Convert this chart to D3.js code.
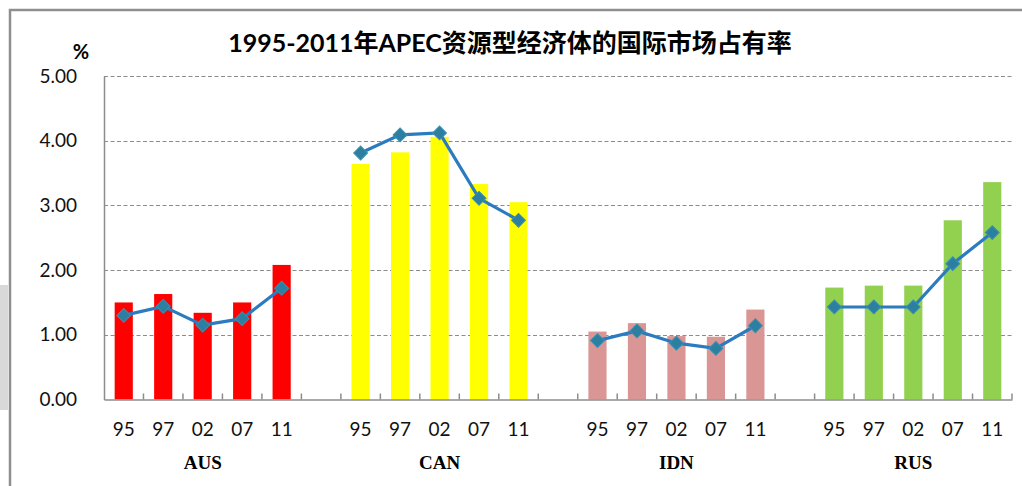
<!DOCTYPE html>
<html>
<head>
<meta charset="utf-8">
<script src="https://cdn.jsdelivr.net/npm/d3@7"></script>
<style>
    body { margin: 0; background: #fff; }
    svg { display: block; }
</style>
</head>
<body>
<svg width="1022" height="486"></svg>
<script>
// data
var countries = ["AUS", "CAN", "IDN", "RUS"];
var years = ["95", "97", "02", "07", "11"];
var barColors = ["#ff0000", "#ffff00", "#d99694", "#92d050"];
var barValues = [
    [1.50, 1.63, 1.34, 1.50, 2.08],   // AUS
    [3.64, 3.82, 4.06, 3.33, 3.05],   // CAN
    [1.05, 1.18, 0.98, 0.97, 1.39],   // IDN
    [1.73, 1.76, 1.76, 2.77, 3.36]    // RUS
];
var lineValues = [
    [1.30, 1.44, 1.15, 1.25, 1.72],
    [3.81, 4.09, 4.12, 3.11, 2.77],
    [0.91, 1.06, 0.87, 0.79, 1.14],
    [1.43, 1.43, 1.43, 2.10, 2.58]
];
var yTicks = [0, 1, 2, 3, 4, 5];
var title = "1995-2011年APEC资源型经济体的国际市场占有率";

var svg = d3.select('svg');
var plotLeft = 104, plotRight = 1012, plotTop = 76, plotBottom = 399.5;

// one slot per country/year, one empty slot between countries
var slots = [];
countries.forEach(function (c, i) {
    years.forEach(function (y) { slots.push(c + "-" + y); });
    if (i < countries.length - 1) slots.push("gap" + i);
});

var x = d3.scaleBand().domain(slots).range([plotLeft, plotRight]).padding(0);
var y = d3.scaleLinear().domain([0, 5]).range([plotBottom, plotTop]);

// faint watermark piece at the left edge
svg.append('rect')
    .attr('x', 0).attr('y', 285).attr('width', 8).attr('height', 125)
    .attr('fill', '#d9d9d9');

// outer chart border; right and bottom sides fall outside the picture
svg.append('rect')
    .attr('x', 10).attr('y', 10).attr('width', 1100).attr('height', 600)
    .attr('fill', 'none')
    .attr('stroke', '#8f8f8f').attr('stroke-width', 2.5);

// grid lines
svg.append('g')
    .selectAll('line')
    .data(yTicks.filter(function (d) { return d > 0; }))
    .enter().append('line')
    .attr('x1', plotLeft).attr('x2', plotRight)
    .attr('y1', function (d) { return Math.round(y(d)) + 0.5; })
    .attr('y2', function (d) { return Math.round(y(d)) + 0.5; })
    .attr('stroke', '#8c8c8c')
    .attr('stroke-width', 1.2)
    .attr('stroke-dasharray', '4,2.5');

// y axis
var yAxis = svg.append('g')
    .attr('transform', 'translate(' + plotLeft + ',0)')
    .call(d3.axisLeft(y).tickValues(yTicks).tickFormat(d3.format('.2f')).tickSize(0).tickPadding(27));
yAxis.select('.domain').attr('stroke', '#8c8c8c').attr('stroke-width', 1.5);
yAxis.selectAll('text')
    .style('font-family', 'Lato, "Open Sans", sans-serif')
    .style('font-size', '19px')
    .attr('fill', '#111');

// bars
countries.forEach(function (c, i) {
    var bw = x.bandwidth() * 0.46;
    svg.append('g')
        .selectAll('rect')
        .data(barValues[i])
        .enter().append('rect')
        .attr('x', function (d, j) { return x(c + "-" + years[j]) + (x.bandwidth() - bw) / 2; })
        .attr('y', function (d) { return y(d); })
        .attr('width', bw)
        .attr('height', function (d) { return y(0) - y(d); })
        .attr('fill', barColors[i]);
});

// x axis with year labels
var xAxis = svg.append('g')
    .attr('transform', 'translate(0,' + plotBottom + ')')
    .call(d3.axisBottom(x)
        .tickFormat(function (d) { return d.indexOf('gap') === 0 ? '' : d.split('-')[1]; })
        .tickSize(0).tickPadding(23).tickSizeOuter(0));
xAxis.select('.domain').attr('stroke', '#8c8c8c').attr('stroke-width', 1.5);
xAxis.selectAll('text')
    .style('font-family', 'Lato, "Open Sans", sans-serif')
    .style('font-size', '19px')
    .attr('fill', '#111');

// tick marks at slot boundaries, pointing up into the plot
var bounds = slots.map(function (s) { return x(s); }).concat([plotRight]).slice(1);
svg.append('g')
    .selectAll('line')
    .data(bounds)
    .enter().append('line')
    .attr('x1', function (d) { return d; }).attr('x2', function (d) { return d; })
    .attr('y1', plotBottom).attr('y2', plotBottom - 6)
    .attr('stroke', '#8c8c8c')
    .attr('stroke-width', 1.5);

// country labels
svg.append('g')
    .selectAll('text')
    .data(countries)
    .enter().append('text')
    .attr('x', function (c) { return x(c + "-02") + x.bandwidth() / 2; })
    .attr('y', 469)
    .attr('text-anchor', 'middle')
    .style('font-family', '"Liberation Serif", serif')
    .style('font-weight', 'bold')
    .style('font-size', '19px')
    .text(function (c) { return c; });

// lines with diamond markers
var line = d3.line()
    .x(function (d) { return x(d.key) + x.bandwidth() / 2; })
    .y(function (d) { return y(d.v); });
var diamond = d3.symbol().type(d3.symbolSquare).size(96);

countries.forEach(function (c, i) {
    var pts = lineValues[i].map(function (v, j) { return {key: c + "-" + years[j], v: v}; });
    svg.append('path')
        .datum(pts)
        .attr('d', line)
        .attr('fill', 'none')
        .attr('stroke', '#2a7bbf')
        .attr('stroke-width', 3.2);
    svg.append('g')
        .selectAll('path')
        .data(pts)
        .enter().append('path')
        .attr('d', diamond)
        .attr('transform', function (d) {
            return 'translate(' + (x(d.key) + x.bandwidth() / 2) + ',' + y(d.v) + ') rotate(45)';
        })
        .attr('fill', '#2c7fa0')
        .attr('stroke', '#3a8fb0')
        .attr('stroke-width', 1);
});

// title and unit
svg.append('text')
    .attr('x', 510).attr('y', 52)
    .attr('text-anchor', 'middle')
    .style('font-family', 'Lato, "Noto Sans CJK SC", sans-serif')
    .style('font-weight', 'bold')
    .style('font-size', '25px')
    .text(title);

svg.append('text')
    .attr('x', 81).attr('y', 59)
    .attr('text-anchor', 'middle')
    .style('font-family', 'Lato, sans-serif')
    .style('font-weight', 'bold')
    .style('font-size', '20px')
    .text('%');
</script>
</body>
</html>
